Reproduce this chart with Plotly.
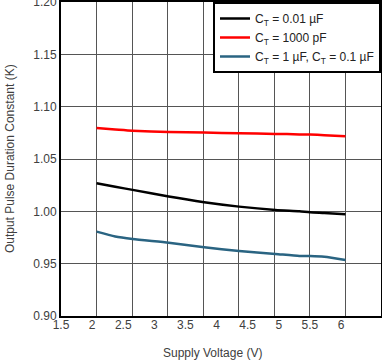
import plotly.graph_objects as go

# Data
supply_v = [2.0, 2.3, 2.58, 3.16, 3.73, 4.29, 4.875, 5.26, 5.43, 5.66, 6.0]
k_001uF = [1.0269, 1.0235, 1.0205, 1.0141, 1.0087, 1.0045, 1.0013, 1.0000, 0.9991, 0.9984, 0.9972]
k_1000pF = [1.0795, 1.0782, 1.0770, 1.0758, 1.0753, 1.0746, 1.0740, 1.0735, 1.0733, 1.0728, 1.0718]
k_1uF = [0.9806, 0.9760, 0.9736, 0.9700, 0.9657, 0.9621, 0.9593, 0.9574, 0.9574, 0.9567, 0.9535]

x_tick_labels = ["1.5", "2", "2.5", "3", "3.5", "4", "4.5", "5", "5.5", "6"]
x_tick_vals = [1.5, 2.0, 2.5, 3.0, 3.5, 4.0, 4.5, 5.0, 5.5, 6.0]
y_tick_vals = [0.90, 0.95, 1.00, 1.05, 1.10, 1.15, 1.20]

series_names = ["C<sub>T</sub> = 0.01 µF", "C<sub>T</sub> = 1000 pF", "C<sub>T</sub> = 1 µF, C<sub>T</sub> = 0.1 µF"]
series_colors = ["#000000", "#ff0000", "#2a6482"]

FONT = "Liberation Sans, Arial, sans-serif"

fig = go.Figure()
for name, ys, col in zip(series_names, [k_001uF, k_1000pF, k_1uF], series_colors):
    fig.add_trace(go.Scatter(x=supply_v, y=ys, mode="lines", name=name,
                             line=dict(color=col, width=2.5, shape="spline", smoothing=0.6)))

step = 4 / 7
fig.update_layout(
    width=382, height=360,
    margin=dict(l=61, r=1, t=2, b=44, autoexpand=False),
    paper_bgcolor="white", plot_bgcolor="white",
    font=dict(family=FONT, size=12, color="#404040"),
    showlegend=True,
    legend=dict(x=1, y=1, xanchor="right", yanchor="top",
                bgcolor="white", bordercolor="#000000", borderwidth=2,
                font=dict(family=FONT, size=12, color="#222222"),
                tracegroupgap=0, itemwidth=30),
    xaxis=dict(range=[2 - step, 6 + step], tick0=2, dtick=step,
               showticklabels=False, ticks="", automargin=False,
               showgrid=True, gridcolor="#555555", gridwidth=1,
               zeroline=False, showline=True, mirror=True,
               linecolor="#000000", linewidth=2),
    xaxis2=dict(overlaying="x", anchor="y", side="bottom", automargin=False,
                range=[1.5, 1.5 + 320 / 62.22],
                tickvals=x_tick_vals, ticktext=x_tick_labels,
                showgrid=False, zeroline=False, ticks="", showline=False,
                ticklabeloverflow="allow",
                tickfont=dict(size=12, color="#404040")),
    yaxis=dict(range=[0.9, 1.2], tickvals=y_tick_vals, tickformat=".2f",
               showgrid=True, gridcolor="#555555", gridwidth=1, automargin=False,
               zeroline=False, showline=True, mirror=True, ticks="",
               linecolor="#000000", linewidth=2, ticklabeloverflow="allow",
               tickfont=dict(size=12, color="#404040")),
    annotations=[
        dict(text="Supply Voltage (V)", xref="paper", yref="paper",
             x=0.474, y=-0.118, xanchor="center", yanchor="middle",
             showarrow=False, font=dict(size=12, color="#404040")),
        dict(text="Output Pulse Duration Constant (K)", xref="paper", yref="paper",
             x=-0.159, y=0.5, xanchor="center", yanchor="middle", textangle=-90,
             showarrow=False, font=dict(size=12, color="#404040")),
    ],
)
# invisible helper trace so the tick-label axis is drawn
fig.add_trace(go.Scatter(x=[1.5], y=[None], xaxis="x2", showlegend=False, hoverinfo="skip"))

fig.write_html("out.html", config={"displayModeBar": False},
               post_script="document.body.style.margin='0';document.body.style.padding='0';")
